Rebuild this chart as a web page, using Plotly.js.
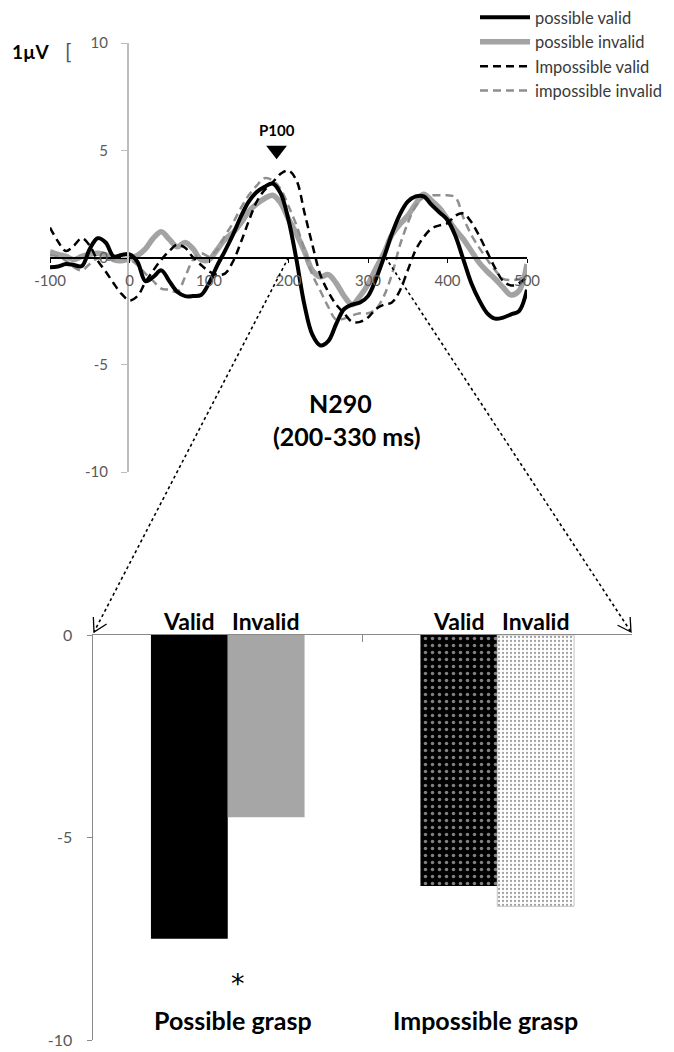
<!DOCTYPE html>
<html><head><meta charset="utf-8">
<script src="https://cdn.plot.ly/plotly-3.0.1.min.js"></script>
<style>html,body{margin:0;padding:0;background:#fff}#chart{width:674px;height:1052px}</style>
</head><body><div id="chart"></div>
<script>
// ---------- DATA ----------
const timeMs = [-100,-90,-80,-70,-60,-50,-40,-30,-20,-10,0,10,20,30,40,50,60,70,80,90,100,110,120,130,140,150,160,170,180,190,200,210,220,230,240,250,260,270,280,290,300,310,320,330,340,350,360,370,380,390,400,410,420,430,440,450,460,470,480,490,500];
const possibleValid = [-0.45,-0.42,-0.3,-0.35,-0.4,0.4,0.9,0.7,0.05,0.12,0.15,-0.2,-1.1,-0.9,-0.6,-1.1,-1.6,-1.8,-1.8,-1.75,-1.2,-0.4,0.3,1.05,1.9,2.6,3.05,3.3,3.45,3.0,1.75,-0.1,-2.2,-3.6,-4.1,-3.9,-3.1,-2.4,-2.2,-2.1,-1.8,-1.0,0.0,1.1,2.0,2.6,2.85,2.85,2.45,2.1,1.75,1.0,-0.1,-1.2,-2.0,-2.6,-2.85,-2.8,-2.65,-2.5,-1.5];
const possibleInvalid = [0.28,0.15,0.05,-0.1,0.05,0.15,0.2,0.13,-0.1,-0.15,-0.05,0.1,0.4,0.9,1.2,0.85,0.5,0.7,0.4,-0.1,-0.1,0.35,0.85,1.15,1.6,2.15,2.5,2.75,2.9,2.55,1.8,1.1,0.3,-0.6,-0.9,-0.8,-1.2,-1.8,-2.2,-1.8,-1.25,-0.5,0.2,1.05,1.55,1.95,2.5,2.95,2.65,2.3,1.8,1.3,0.85,0.3,-0.25,-0.65,-1.0,-1.4,-1.75,-1.55,-0.3];
const impossibleValid = [1.4,0.75,0.3,0.55,0.9,0.55,-0.15,-0.65,-1.2,-1.7,-2.0,-1.8,-1.15,-0.6,-0.1,0.3,0.6,0.45,0.0,-0.35,-0.65,-0.8,-0.75,-0.2,0.7,1.7,2.6,3.15,3.5,3.9,4.05,3.6,2.1,0.6,-0.8,-1.6,-2.2,-2.6,-3.0,-3.0,-2.8,-2.4,-2.2,-2.1,-1.55,-0.6,0.35,0.95,1.35,1.5,1.6,1.95,2.05,1.65,1.0,0.25,-0.5,-1.1,-1.3,-1.2,-0.9];
const impossibleInvalid = [0.1,0.05,-0.15,-0.45,-0.6,-0.3,-0.05,-0.1,-0.1,-0.05,-0.1,-0.35,-0.75,-1.1,-1.45,-1.5,-1.6,-0.9,-0.1,0.2,0.05,0.35,1.0,1.6,2.3,2.9,3.35,3.7,3.6,3.2,2.4,1.5,0.35,-0.8,-1.55,-2.3,-2.9,-2.85,-2.7,-2.6,-2.6,-2.4,-1.8,-0.8,0.55,1.6,2.4,2.8,2.9,2.9,2.9,2.8,1.85,1.05,0.45,-0.1,-0.6,-1.0,-1.05,-1.0,-0.8];
const seriesNames = ['possible valid','possible invalid','Impossible valid','impossible invalid'];

const graspCategories = ['Possible grasp','Impossible grasp'];
const n290Valid = [-7.5, -6.2];
const n290Invalid = [-4.5, -6.7];
const barLabels = ['Valid','Invalid'];

const waveXTicks = [-100,0,100,200,300,400,500];
const waveYTicks = [10,5,0,-5,-10];
const barYTicks = [0,-5,-10];
const p100Latency = 185;
const n290Window = [200, 330];

// ---------- LAYOUT GEOMETRY (pixels) ----------
const W = 674, H = 1052;
const px = x => x / W, py = y => 1 - y / H;
const FONT = 'Lato, "Open Sans", sans-serif';
const G = {wx0: 50, wx1: 527, wyTop: 43, wyBot: 472, wAxisX: 127,
           bx0: 93, bx1: 632, byTop: 635, byBot: 1040};
const wX = t => G.wx0 + (t + 100) / 600 * (G.wx1 - G.wx0);
const wY = v => G.wyBot - (v + 10) / 20 * (G.wyBot - G.wyTop);

const styles = [
  {color: '#000000', width: 4, dash: 'solid', rank: 1},
  {color: '#a3a3a3', width: 5.5, dash: 'solid', rank: 2},
  {color: '#000000', width: 2.5, dash: '8px,5px', rank: 3},
  {color: '#8f8f8f', width: 2.5, dash: '8px,5px', rank: 4}
];
const series = [possibleValid, possibleInvalid, impossibleValid, impossibleInvalid];
const order = [1, 3, 2, 0];
const traces = order.map(i => ({
  type: 'scatter', mode: 'lines', x: timeMs, y: series[i], name: seriesNames[i],
  legendrank: styles[i].rank, legendgroup: 'g' + i,
  line: {color: styles[i].color, width: styles[i].width, dash: styles[i].dash, shape: 'spline', smoothing: 1},
  xaxis: 'x', yaxis: 'y', hoverinfo: 'skip'
}));
traces.push({type: 'scatter', mode: 'markers', x: [p100Latency], y: [5.0], showlegend: false,
  marker: {symbol: 'triangle-down', size: 18, color: '#000'}, xaxis: 'x', yaxis: 'y', hoverinfo: 'skip'});

// Bars
traces.push({
  type: 'bar', x: graspCategories, y: n290Valid, name: barLabels[0], showlegend: false,
  xaxis: 'x2', yaxis: 'y2', hoverinfo: 'skip',
  marker: {color: ['#000000', '#000000'], line: {width: 0},
    pattern: {shape: ['', '.'], fillmode: 'overlay', fgcolor: '#ffffff', size: 7, solidity: 0.2}}
});
traces.push({
  type: 'bar', x: graspCategories, y: n290Invalid, name: barLabels[1], showlegend: false,
  xaxis: 'x2', yaxis: 'y2', hoverinfo: 'skip',
  marker: {color: ['#a6a6a6', '#ffffff'], line: {width: [0, 1], color: ['#a6a6a6', '#c4c4c4']},
    pattern: {shape: ['', '.'], fillmode: 'overlay', fgcolor: '#8c8c8c', size: 4, solidity: 0.25}}
});

// Annotations
const ann = [];
const A = (x, y, text, size, bold, color) => ann.push({
  xref: 'paper', yref: 'paper', x: px(x), y: py(y), text: bold ? '<b>' + text + '</b>' : text,
  showarrow: false, xanchor: 'center', yanchor: 'middle',
  font: {family: FONT, size: size, color: color || '#000'}});
A(31.5, 52, '1µV', 19, true);
A(68, 51, '[', 21, false, '#555');
ann.push({xref: 'x', yref: 'y', x: p100Latency, y: 5.0, yshift: 20, text: '<b>P100</b>', showarrow: false,
  font: {family: FONT, size: 15, color: '#000'}});
A(340, 403, 'N290', 25, true);
A(347, 436, '(' + n290Window[0] + '-' + n290Window[1] + ' ms)', 25, true);
// bar labels above bars
const catW = (G.bx1 - G.bx0) / 2;
const barW = catW * 0.57 / 2;
graspCategories.forEach((c, ci) => {
  barLabels.forEach((b, bi) => {
    ann.push({xref: 'x2', yref: 'y2', x: c, y: 0, xshift: (bi === 0 ? -1 : 1) * barW / 2,
      yanchor: 'bottom', yshift: -2, text: '<b>' + b + '</b>', showarrow: false,
      font: {family: FONT, size: 23, color: '#000'}});
  });
  ann.push({xref: 'x2', yref: 'y2', x: c, y: -9.5, xshift: ci === 0 ? 5 : -12, text: '<b>' + c + '</b>',
    showarrow: false, font: {family: FONT, size: 25, color: '#000'}});
});
ann.push({xref: 'x2', yref: 'y2', x: graspCategories[0], y: -8.4, xshift: 10, yshift: -8, text: '*', showarrow: false,
  font: {family: '"DejaVu Sans", sans-serif', size: 27, color: '#000'}});

// Dotted connector arrows
const shapes = [];
function dottedArrow(x0, y0, x1, y1) {
  shapes.push({type: 'line', xref: 'paper', yref: 'paper', x0: px(x0), y0: py(y0), x1: px(x1), y1: py(y1),
    line: {color: '#000', width: 1.6, dash: 'dot'}});
  const dx = x0 - x1, dy = y0 - y1, L = Math.hypot(dx, dy);
  const ux = dx / L, uy = dy / L, a = Math.PI / 6, len = 15;
  const r = s => [x1 + len * (ux * Math.cos(s * a) - uy * Math.sin(s * a)), y1 + len * (ux * Math.sin(s * a) + uy * Math.cos(s * a))];
  const p = r(1), q = r(-1);
  shapes.push({type: 'path', xref: 'paper', yref: 'paper',
    path: `M${px(p[0])},${py(p[1])} L${px(x1)},${py(y1)} L${px(q[0])},${py(q[1])}`,
    line: {color: '#000', width: 1.3}});
}
dottedArrow(wX(n290Window[0]), wY(0), G.bx0 + 1, G.byTop - 3);
dottedArrow(wX(n290Window[1] - 8), wY(0), G.bx1 - 1, G.byTop - 3);

const tickFont = {family: FONT, size: 15, color: '#595959'};
const layout = {
  width: W, height: H, margin: {l: 0, r: 0, t: 0, b: 0},
  paper_bgcolor: '#fff', plot_bgcolor: 'rgba(0,0,0,0)', showlegend: true,
  legend: {x: px(475), y: py(0), xanchor: 'left', yanchor: 'top', bgcolor: 'rgba(0,0,0,0)',
    font: {family: FONT, size: 16.5, color: '#3a3a3a'}, tracegroupgap: 4, itemwidth: 50, traceorder: 'normal'},
  xaxis: {domain: [px(G.wx0), px(G.wx1)], range: [-100, 500], anchor: 'free', position: py(wY(0)),
    showgrid: false, zeroline: false, showline: true, linecolor: '#000', linewidth: 2,
    tickvals: waveXTicks, ticktext: waveXTicks.map(String), ticks: 'outside', ticklen: 4, tickcolor: '#000',
    tickfont: tickFont, ticklabelstandoff: 5},
  yaxis: {domain: [py(G.wyBot), py(G.wyTop)], range: [-10, 10], anchor: 'free', position: px(G.wAxisX),
    showgrid: false, zeroline: false, showline: true, linecolor: '#bdbdbd', linewidth: 1.5,
    tickvals: waveYTicks, ticktext: waveYTicks.map(String), ticks: 'outside', ticklen: 6, tickcolor: '#bdbdbd',
    tickfont: tickFont, ticklabelstandoff: 10},
  xaxis2: {domain: [px(G.bx0), px(G.bx1)], anchor: 'y2', side: 'top', type: 'category',
    categoryorder: 'array', categoryarray: graspCategories,
    showgrid: false, zeroline: false, showline: true, linecolor: '#8a8a8a', linewidth: 1.5,
    ticks: 'inside', tickson: 'boundaries', ticklen: 7, tickcolor: '#8a8a8a', showticklabels: false},
  yaxis2: {domain: [py(G.byBot), py(G.byTop)], range: [-10, 0], anchor: 'x2',
    showgrid: false, zeroline: false, showline: true, linecolor: '#8a8a8a', linewidth: 1.5,
    tickvals: barYTicks, ticktext: barYTicks.map(String), ticks: 'outside', ticklen: 5, tickcolor: '#8a8a8a',
    tickfont: {family: FONT, size: 16, color: '#595959'}, ticklabelstandoff: 11},
  barmode: 'group', bargap: 0.43, bargroupgap: 0,
  annotations: ann, shapes: shapes
};
Plotly.newPlot('chart', traces, layout, {staticPlot: true, displayModeBar: false});
</script></body></html>
